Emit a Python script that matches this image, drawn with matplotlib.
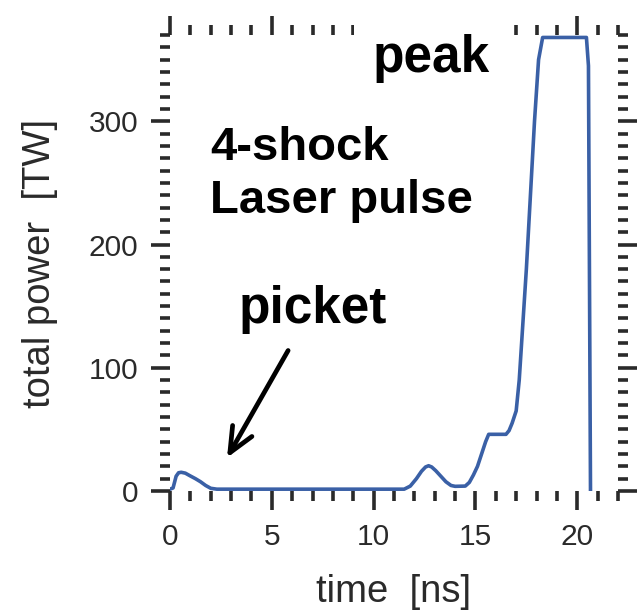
import matplotlib
matplotlib.use("Agg")
import matplotlib.pyplot as plt
from matplotlib.ticker import MultipleLocator

# laser pulse shape: total power vs time
time_ns = [0, 0.15, 0.3, 0.42, 0.55, 0.75, 1.0, 1.25, 1.5, 1.75, 2.0, 2.3,
           11.5, 11.8, 12.1, 12.35, 12.55, 12.7, 12.85, 13.05, 13.3, 13.55,
           13.8, 14.0, 14.5, 14.7, 14.9, 15.1, 15.3, 15.5, 15.65, 16.5,
           16.65, 16.8, 17.0, 17.15, 17.5, 17.9, 18.1, 18.3, 20.45, 20.55,
           20.65]
power_tw = [1.5, 2.5, 12, 14.8, 15.2, 14.5, 12.2, 10, 7.5, 4.5, 2.2, 1.5,
            1.5, 4, 10, 16, 19.5, 20.5, 19.5, 16.5, 12, 7.5,
            4.5, 3.8, 4, 7, 13, 20, 30, 40, 46, 46,
            49, 55, 65, 90, 180, 300, 350, 368, 368, 345,
            0]

x_ticks = [0, 5, 10, 15, 20]
y_ticks = [0, 100, 200, 300]

plt.rcParams['font.family'] = ['Liberation Sans', 'DejaVu Sans']

fig = plt.figure(figsize=(6.43, 6.14), dpi=100)
ax = fig.add_axes([0.2644, 0.2003, 0.6967, 0.7427])

ax.plot(time_ns, power_tw, color='#3a60a6', lw=2.6, zorder=2)

ax.set_xlim(0, 22)
ax.set_ylim(0, 370)
ax.set_xticks(x_ticks)
ax.set_yticks(y_ticks)
ax.xaxis.set_minor_locator(MultipleLocator(1))
ax.yaxis.set_minor_locator(MultipleLocator(10))

for s in ax.spines.values():
    s.set_visible(False)

ax.tick_params(which='both', direction='out', top=True, right=True,
               color='#2a2a2a', width=2.6, labelsize=21.5,
               labelcolor='#2a2a2a', pad=9)
ax.tick_params(which='major', length=14)
ax.tick_params(which='minor', length=7.5)

ax.set_xlabel('time  [ns]', fontsize=27.5, color='#2a2a2a')
ax.set_ylabel('total power  [TW]', fontsize=27.5, color='#2a2a2a')
ax.xaxis.set_label_coords(0.5, -0.183)
ax.yaxis.set_label_coords(-0.25, 0.5)

# annotations
bold = dict(fontweight='bold', color='black', va='baseline', ha='left')
ax.text(9.94, 340, 'peak', fontsize=37, zorder=5,
        bbox=dict(facecolor='white', edgecolor='none', pad=13), **bold)
ax.text(1.97, 268.7, '4-shock', fontsize=34, **bold)
ax.text(1.97, 225.6, 'Laser pulse', fontsize=34, **bold)
ax.text(3.35, 136, 'picket', fontsize=37, **bold)
ax.annotate('', xy=(2.8, 27), xytext=(5.8, 114),
            arrowprops=dict(arrowstyle='->, head_length=0.9, head_width=0.4',
                            mutation_scale=20, lw=3.4, color='black',
                            shrinkA=0, shrinkB=0))

fig.savefig('out.png', dpi=100)
